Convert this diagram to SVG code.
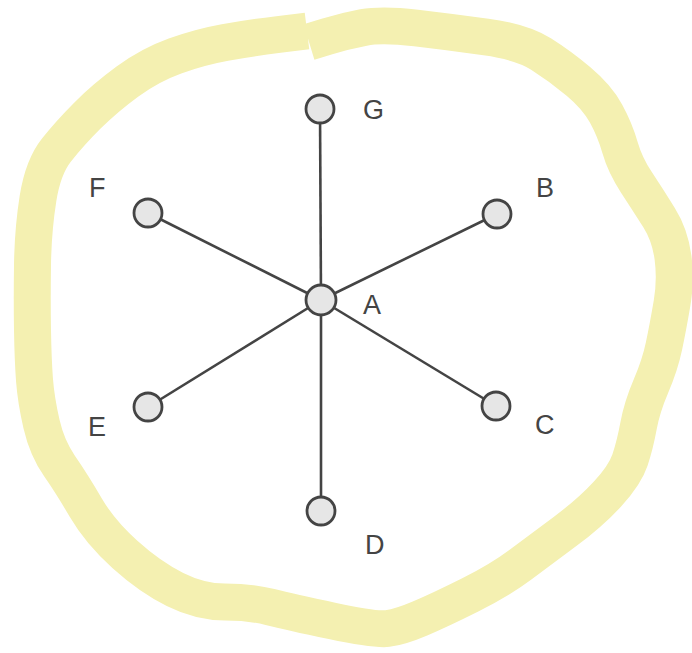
<svg xmlns="http://www.w3.org/2000/svg" width="692" height="653" viewBox="0 0 692 653">
<style>
.loop{fill:none;stroke:#f4f0b1;stroke-width:37;stroke-linejoin:round;stroke-linecap:butt}
.edge{stroke:#444;stroke-width:2.6;fill:none}
.node{fill:#e6e6e6;stroke:#444;stroke-width:2.8}
.lbl{font-family:"Liberation Sans",Arial,sans-serif;font-size:27px;fill:#444}
</style>
<rect width="692" height="653" fill="#fff"/>
<g id="loop">
<path class="loop" d="M309,42 L327,36.5 Q345,31 363.5,27.5 Q382,24 416,28 Q450,32 486,37 Q522,42 541,54 Q560,66 578.5,81.5 Q597,97 606,113.5 Q615,130 620,147.5 Q625,165 636.5,182.5 Q648,200 659,217.5 Q670,235 673,257.5 Q676,280 672,303.5 Q668,327 664,346 Q660,365 651,386 Q642,407 638.5,426 Q635,445 630,460 Q625,475 607.5,494 Q590,513 565,531.5 Q540,550 520,565 Q500,580 470,595 Q440,610 420,618.5 Q400,627 387.5,628.5 Q375,630 332.5,621 Q290,612 270,607 Q250,602 225,602 Q200,602 175,589.5 Q150,577 125,554.5 Q100,532 86,508 Q72,484 59.5,466 Q47,448 41.5,424 Q36,400 34.5,380 Q33,360 32.5,330 Q32,300 32.5,265 Q33,230 38,198.5 Q43,167 56.5,150 Q70,133 87.5,115.5 Q105,98 127.5,81.5 Q150,65 175,56 Q200,47 225,42.5 Q250,38 278.5,34.5 L307,31"/>
</g>
<g id="connectors">
<line class="edge" x1="321" y1="300" x2="320" y2="109"/>
<line class="edge" x1="321" y1="300" x2="321" y2="511"/>
<line class="edge" x1="321" y1="300" x2="148" y2="213"/>
<line class="edge" x1="321" y1="300" x2="497" y2="214"/>
<line class="edge" x1="321" y1="300" x2="496" y2="406"/>
<line class="edge" x1="321" y1="300" x2="148" y2="407"/>
</g>
<g id="node-A"><circle class="node" cx="321" cy="300" r="15"/><text class="lbl" x="363" y="314">A</text></g>
<g id="node-G"><circle class="node" cx="320" cy="109" r="14"/><text class="lbl" x="363" y="119">G</text></g>
<g id="node-B"><circle class="node" cx="497" cy="214" r="14"/><text class="lbl" x="536" y="197">B</text></g>
<g id="node-C"><circle class="node" cx="496" cy="406" r="14"/><text class="lbl" x="535" y="434">C</text></g>
<g id="node-D"><circle class="node" cx="321" cy="511" r="14"/><text class="lbl" x="365" y="554">D</text></g>
<g id="node-E"><circle class="node" cx="148" cy="407" r="14"/><text class="lbl" x="88" y="436">E</text></g>
<g id="node-F"><circle class="node" cx="148" cy="213" r="14"/><text class="lbl" x="89" y="197">F</text></g>
</svg>
